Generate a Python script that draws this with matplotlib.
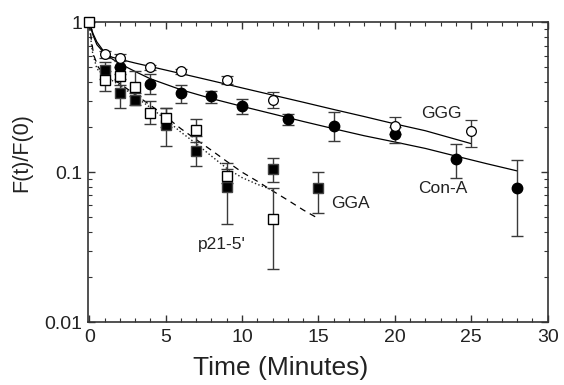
import numpy as np
import matplotlib.pyplot as plt
from matplotlib.ticker import FixedLocator, LogLocator, NullFormatter, MultipleLocator

#%% DATA
# Con-A, filled circles
t_cona = [2, 4, 6, 8, 10, 13, 16, 20, 24, 28]
f_cona = [0.50, 0.39, 0.335, 0.32, 0.275, 0.228, 0.203, 0.179, 0.122, 0.079]
lo_cona = [0.45, 0.33, 0.29, 0.29, 0.243, 0.208, 0.161, 0.157, 0.092, 0.0376]
hi_cona = [0.56, 0.45, 0.38, 0.35, 0.307, 0.245, 0.252, 0.20, 0.153, 0.12]

# GGG, open circles
t_ggg = [1, 2, 4, 6, 9, 12, 20, 25]
f_ggg = [0.61, 0.58, 0.50, 0.47, 0.415, 0.305, 0.204, 0.188]
lo_ggg = [0.58, 0.55, 0.48, 0.45, 0.385, 0.27, 0.18, 0.148]
hi_ggg = [0.64, 0.61, 0.52, 0.49, 0.44, 0.343, 0.233, 0.224]

# GGA, filled squares
t_gga = [1, 2, 3, 5, 7, 9, 12, 15]
f_gga = [0.48, 0.34, 0.305, 0.205, 0.139, 0.080, 0.105, 0.078]
lo_gga = [0.42, 0.27, 0.28, 0.15, 0.11, 0.045, 0.086, 0.053]
hi_gga = [0.54, 0.42, 0.34, 0.27, 0.175, 0.116, 0.125, 0.101]

# p21-5', open squares
t_p21 = [0, 1, 2, 3, 4, 5, 7, 9, 12]
f_p21 = [1.0, 0.41, 0.44, 0.37, 0.25, 0.23, 0.19, 0.095, 0.049]
lo_p21 = [1.0, 0.35, 0.38, 0.32, 0.21, 0.20, 0.16, 0.085, 0.0225]
hi_p21 = [1.0, 0.47, 0.50, 0.47, 0.30, 0.27, 0.225, 0.105, 0.078]

# fitted curves, points
fit_ggg_t = [0, 0.25, 0.5, 1, 1.5, 2, 3, 4, 6, 8, 10, 12, 14, 16, 18, 20, 22, 25]
fit_ggg_f = [1.0, 0.82, 0.71, 0.62, 0.585, 0.567, 0.535, 0.507, 0.455, 0.408, 0.365, 0.327, 0.293, 0.262, 0.235, 0.21, 0.189, 0.155]
fit_cona_t = [0, 0.25, 0.5, 1, 1.5, 2, 3, 4, 6, 8, 10, 12, 14, 16, 18, 20, 22, 24, 26, 28]
fit_cona_f = [1.0, 0.84, 0.74, 0.63, 0.57, 0.53, 0.47, 0.42, 0.355, 0.31, 0.275, 0.245, 0.218, 0.195, 0.175, 0.159, 0.144, 0.128, 0.114, 0.102]
fit_gga_t = [0, 0.15, 0.3, 0.6, 1, 2, 3, 4, 5, 6, 7, 8, 9, 10, 11, 12, 13, 14, 15]
fit_gga_f = [1.0, 0.75, 0.6, 0.5, 0.45, 0.39, 0.33, 0.28, 0.235, 0.195, 0.165, 0.14, 0.118, 0.10, 0.087, 0.075, 0.065, 0.056, 0.049]
fit_p21_t = [0, 0.1, 0.2, 0.5, 1, 2, 3, 4, 5, 6, 7, 8, 9, 10, 11, 12]
fit_p21_f = [1.0, 0.78, 0.64, 0.49, 0.44, 0.38, 0.32, 0.27, 0.225, 0.185, 0.155, 0.128, 0.106, 0.092, 0.083, 0.076]

#%% PLOT
plt.rcParams['font.family'] = ['Liberation Sans', 'DejaVu Sans']
fig = plt.figure(figsize=(5.64, 3.85), dpi=100)
ax = fig.add_axes([0.1555, 0.1636, 0.8155, 0.7784])

ax.plot(fit_ggg_t, fit_ggg_f, '-', color='k', lw=0.9, zorder=2)
ax.plot(fit_cona_t, fit_cona_f, '-', color='k', lw=0.9, zorder=2)
ax.plot(fit_gga_t, fit_gga_f, '--', color='k', lw=0.9, dashes=(5, 4), zorder=2)
ax.plot(fit_p21_t, fit_p21_f, ':', color='#222222', lw=1.0, zorder=2)

def errs(f, lo, hi):
    f = np.array(f); return [f - np.array(lo), np.array(hi) - f]

ebkw = dict(ecolor='#3a3a3a', elinewidth=1.0, capsize=4.5, capthick=1.0, linestyle='none', zorder=3)
ax.errorbar(t_cona, f_cona, yerr=errs(f_cona, lo_cona, hi_cona), marker='o', ms=7.5,
            mfc='k', mec='k', **ebkw)
ax.errorbar(t_ggg, f_ggg, yerr=errs(f_ggg, lo_ggg, hi_ggg), marker='o', ms=7,
            mfc='white', mec='k', mew=0.9, **ebkw)
ax.errorbar(t_gga, f_gga, yerr=errs(f_gga, lo_gga, hi_gga), marker='s', ms=7.5,
            mfc='k', mec='#444444', **ebkw)
p21 = ax.errorbar(t_p21, f_p21, yerr=errs(f_p21, lo_p21, hi_p21), marker='s', ms=7,
                  mfc='white', mec='k', mew=1.0, **ebkw)
p21[0].set_clip_on(False)  # the t=0 square sits on the top spine

ax.set_yscale('log')
ax.set_xlim(-0.1, 30)
ax.set_ylim(0.01, 1)

ax.xaxis.set_major_locator(MultipleLocator(5))
ax.xaxis.set_minor_locator(MultipleLocator(1))
ax.yaxis.set_major_locator(FixedLocator([0.01, 0.1, 1]))
ax.yaxis.set_minor_locator(LogLocator(base=10, subs=np.arange(2, 10)))
ax.yaxis.set_minor_formatter(NullFormatter())
ax.set_yticklabels(['0.01', '0.1', '1'])

ax.tick_params(which='both', direction='in', top=True, right=True, colors='#333333',
               labelcolor='#222222', labelsize=14)
ax.tick_params(which='major', length=5, width=1)
ax.tick_params(which='minor', length=3, width=0.8)
ax.tick_params(axis='x', pad=5)
ax.tick_params(axis='y', pad=4)
for s in ax.spines.values():
    s.set_color('#333333')
    s.set_linewidth(1.2)

ax.set_xlabel('Time (Minutes)', fontsize=19, color='#222222')
ax.xaxis.set_label_coords(0.42, -0.115)
ax.set_ylabel('F(t)/F(0)', fontsize=15.5, color='#222222')
ax.yaxis.set_label_coords(-0.12, 0.567)

# curve labels
ax.text(21.7, 0.229, 'GGG', fontsize=12.5, color='#222222', va='baseline')
ax.text(21.5, 0.0731, 'Con-A', fontsize=12.5, color='#222222', va='baseline')
ax.text(15.85, 0.0575, 'GGA', fontsize=12.5, color='#222222', va='baseline')
ax.text(7.1, 0.0306, "p21-5'", fontsize=12.5, color='#222222', va='baseline')

fig.savefig('out.png', dpi=100)
